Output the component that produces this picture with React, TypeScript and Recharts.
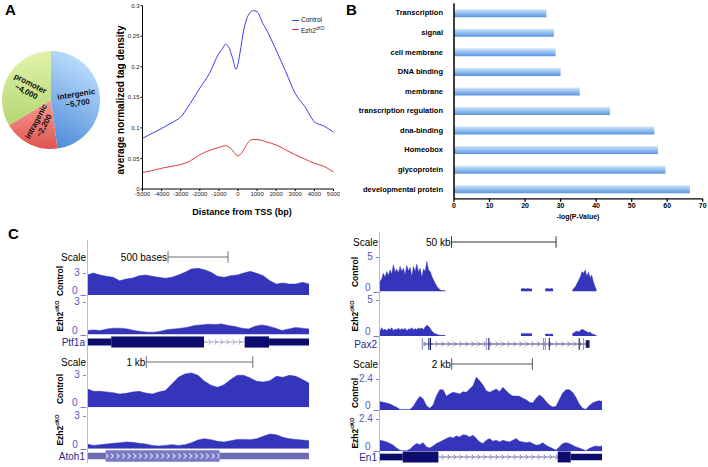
import React from 'react';
import {
  PieChart,
  Pie,
  Cell,
  LineChart,
  Line,
  BarChart,
  Bar,
  AreaChart,
  Area,
  ComposedChart,
  XAxis,
  YAxis,
  Legend,
  ReferenceArea,
  ReferenceLine,
} from 'recharts';

const FONT = '"Liberation Sans", Arial, Helvetica, sans-serif';
const TRACK_FILL = '#3535bb';
const TICK_BLUE = '#5656c2';
const RED_RULE = '#f2a4a4';

// Panel A - peak locations (pie)
const regionNames = ['intergenic', 'intragenic', 'promoter'];
const regionCounts = [5700, 2200, 4000];
const regionLabels = ['~5,700', '~2,200', '~4,000'];

// Panel A - tag density around TSS
const tssBp = [-5000, -4500, -4000, -3500, -3000, -2500, -2000, -1500, -1000, -800, -650, -500, -300, -100, 0, 100, 300, 500, 800, 1000, 1300, 1500, 2000, 2500, 3000, 3500, 4000, 4500, 5000];
const tssControl = [0.083, 0.091, 0.099, 0.108, 0.118, 0.14, 0.165, 0.189, 0.222, 0.23, 0.237, 0.233, 0.216, 0.196, 0.205, 0.222, 0.26, 0.282, 0.292, 0.29, 0.271, 0.26, 0.227, 0.192, 0.156, 0.135, 0.11, 0.103, 0.093];
const tssKo = [0.027, 0.03, 0.034, 0.037, 0.04, 0.046, 0.056, 0.063, 0.068, 0.07, 0.071, 0.069, 0.064, 0.056, 0.054, 0.056, 0.064, 0.075, 0.081, 0.081, 0.079, 0.077, 0.072, 0.064, 0.056, 0.049, 0.042, 0.037, 0.028];
const tssTicksX = [-5000, -4000, -3000, -2000, -1000, 0, 1000, 2000, 3000, 4000, 5000];
const tssTicksY = [0, 0.05, 0.1, 0.15, 0.2, 0.25, 0.3];

// Panel B - GO terms
const goTerms = ['Transcription', 'signal', 'cell membrane', 'DNA binding', 'membrane', 'transcription regulation', 'dna-binding', 'Homeobox', 'glycoprotein', 'developmental protein'];
const goScores = [26.0, 28.1, 28.6, 30.0, 35.4, 43.9, 56.4, 57.4, 59.5, 66.4];
const goTicks = [0, 10, 20, 30, 40, 50, 60, 70];

// Panel C - Ptf1a locus (bp)
const ptf1aSpan = 1850;
const ptf1aCtl = [2.22, 2.44, 2.22, 2.07, 1.96, 1.59, 1.78, 1.89, 2.15, 2.22, 2.07, 1.96, 1.85, 1.96, 2.22, 2.52, 2.89, 2.96, 2.81, 2.52, 2.07, 1.96, 2.15, 2.22, 2.44, 2.63, 2.41, 2.15, 1.59, 1.22, 1.33, 1.22, 1.22, 1.41, 1.22];
const ptf1aKo = [0.32, 0.37, 0.32, 0.45, 0.51, 0.51, 0.45, 0.32, 0.24, 0.19, 0.19, 0.27, 0.4, 0.45, 0.51, 0.59, 0.72, 0.77, 0.83, 0.8, 0.85, 0.72, 0.64, 0.51, 0.45, 0.67, 0.77, 0.67, 0.51, 0.32, 0.45, 0.56, 0.51, 0.45];
const ptf1aParts = [
  { s: 0, e: 202, k: 'utr' },
  { s: 202, e: 975, k: 'cds' },
  { s: 975, e: 1314, k: 'intron' },
  { s: 1314, e: 1517, k: 'cds' },
  { s: 1517, e: 1850, k: 'utr' },
];

// Panel C - Atoh1 locus (bp)
const atoh1Span = 2085;
const atoh1Ctl = [1.54, 1.32, 1.32, 1.27, 1.21, 1.1, 1.16, 1.27, 1.32, 1.18, 1.1, 1.27, 1.38, 1.93, 2.48, 2.76, 2.84, 2.64, 2.15, 1.82, 1.65, 1.87, 2.29, 2.64, 2.64, 2.42, 2.15, 2.09, 2.2, 2.56, 2.48, 2.64, 2.56, 2.29, 2.01];
const atoh1Ko = [0.38, 0.27, 0.33, 0.38, 0.44, 0.49, 0.55, 0.52, 0.44, 0.38, 0.27, 0.22, 0.27, 0.33, 0.27, 0.33, 0.49, 0.71, 0.82, 0.74, 0.6, 0.55, 0.65, 0.76, 0.76, 0.74, 0.82, 1.01, 1.2, 1.14, 0.93, 0.82, 0.76, 0.71, 0.65];
const atoh1Parts = [
  { s: 0, e: 2085, k: 'utr' },
  { s: 176, e: 1245, k: 'cdsArrow' },
];

// Panel C - Pax2 locus (kb), null = no data
const pax2Span = 106.4;
const pax2Kb = [
  0, 0.8, 1.6, 2.4, 3.2, 4.0, 4.8, 5.6, 6.4, 7.2, 8.0, 8.8, 9.6, 10.4, 11.2, 12.0, 12.8, 13.6, 14.4, 15.2,
  16.0, 16.8, 17.6, 18.4, 19.2, 20.0, 20.8, 21.6, 22.4, 23.2, 24.0, 24.8, 25.6, 26.4, 27.2, 28.0, 28.8, 29.6, 30.4, 31.2,
  45,
  67.4, 68.5, 69.6, 70.7, 71.8, 72.7,
  75,
  79.0, 80.0, 81.0, 82.0, 82.8,
  86,
  92.0, 92.8, 93.5, 94.3, 95.1, 95.9, 96.6, 97.4, 98.2, 98.9, 99.7, 100.5, 101.2, 102.0, 102.8, 103.5,
];
const pax2Ctl = [
  1.3, 1.64, 2.37, 1.81, 2.59, 2.07, 2.8, 2.25, 3.46, 2.51, 2.94, 2.37, 3.24, 2.59, 3.02, 2.16, 3.37, 2.68, 3.11, 1.94,
  3.24, 2.59, 3.54, 2.51, 3.02, 1.81, 2.94, 2.59, 3.89, 2.8, 2.59, 1.94, 1.51, 1.08, 0.65, 0.43, 0.22, 0.13, 0.13, 0.13,
  null,
  0.35, 0.39, 0.35, 0.39, 0.35, 0.35,
  null,
  0.35, 0.39, 0.35, 0.39, 0.35,
  null,
  0.22, 0.43, 0.65, 1.08, 1.51, 1.94, 2.59, 2.37, 2.8, 1.94, 2.51, 1.73, 2.16, 1.3, 0.65, 0.22,
];
const pax2Ko = [
  0.53, 1.01, 0.69, 0.85, 0.61, 0.9, 0.77, 1.01, 0.65, 0.85, 0.73, 0.98, 0.69, 0.9, 0.77, 0.93, 0.65, 0.85, 0.81, 1.01,
  0.73, 0.9, 0.77, 0.98, 0.85, 1.01, 0.77, 1.09, 1.3, 1.18, 0.93, 0.61, 0.41, 0.28, 0.2, 0.12, 0.08, 0.08, 0.08, 0.08,
  null,
  0.28, 0.32, 0.28, 0.32, 0.28, 0.28,
  null,
  0.2, 0.24, 0.2, 0.24, 0.2,
  null,
  0.28, 0.41, 0.53, 0.61, 0.49, 0.69, 0.81, 0.73, 0.61, 0.53, 0.41, 0.49, 0.28, 0.2, 0.12, 0.08,
];
const pax2Parts = [
  { s: 20.2, e: 100.0, k: 'intron' },
  { s: 20.0, e: 20.5, k: 'exonLight' },
  { s: 23.1, e: 23.6, k: 'exon' },
  { s: 23.9, e: 24.4, k: 'exon' },
  { s: 50.6, e: 51.1, k: 'exonLight' },
  { s: 51.8, e: 52.3, k: 'exon' },
  { s: 77.9, e: 78.4, k: 'exonLight' },
  { s: 78.8, e: 79.3, k: 'exonLight' },
  { s: 80.7, e: 81.2, k: 'exon' },
  { s: 95.0, e: 95.5, k: 'exon' },
  { s: 97.1, e: 97.6, k: 'exonLight' },
  { s: 98.4, e: 100.2, k: 'cds' },
];

// Panel C - En1 locus (bp)
const en1Span = 5517;
const en1Ctl = [
  0.56, 0.51, 0.47, 0.4, 0.29, 0.18, 0.04, 0.04, 0.04, 0.04,
  0.24, 0.6, 0.91, 0.73, 0.29, 0.11, 0.33, 0.95, 1.35, 1.35,
  0.91, 1.07, 1.18, 1.13, 1.07, 1.22, 1.18, 1.4, 1.62, 2.18,
  1.95, 1.67, 1.29, 1.18, 1.29, 1.4, 1.22, 1.51, 1.29, 1.07,
  0.93, 0.93, 0.91, 0.78, 0.69, 0.51, 0.47, 0.78, 1.0, 0.84,
  0.56, 0.33, 0.2, 0.24, 0.69, 1.13, 1.35, 1.35, 1.18, 0.84,
  0.4, 0.11, 0.04, 0.29, 0.47, 0.56, 0.62, 0.56,
];
const en1Ko = [
  0.73, 0.68, 0.62, 0.51, 0.4, 0.22, 0.07, 0.04, 0.04, 0.13,
  0.35, 0.51, 0.44, 0.57, 0.29, 0.22, 0.35, 0.51, 0.62, 0.73,
  0.84, 0.95, 0.88, 1.01, 0.95, 1.1, 1.06, 0.95, 1.06, 0.84,
  0.62, 0.51, 0.73, 0.84, 0.66, 0.73, 0.62, 0.73, 0.66, 0.62,
  0.73, 0.84, 0.66, 0.62, 0.57, 0.62, 0.51, 0.4, 0.44, 0.57,
  0.4, 0.29, 0.18, 0.07, 0.29, 0.51, 0.57, 0.51, 0.4, 0.29,
  0.22, 0.13, 0.04, 0.18, 0.29, 0.35, 0.31, 0.35,
];
const en1Parts = [
  { s: 0, e: 563, k: 'utr' },
  { s: 563, e: 1448, k: 'cds' },
  { s: 1448, e: 4406, k: 'intron' },
  { s: 4406, e: 4728, k: 'cds' },
  { s: 4728, e: 5517, k: 'utr' },
];

// gene drawing styles
const ptf1aLook = { dark: '#0c0c6c', light: '#0c0c6c', line: '#a6a6d0', chevron: '#9c9ccb', cds: 0.8, utr: 0.5, exon: 0.8 };
const atoh1Look = { dark: '#7878c4', utrColor: '#6c6cb3', light: '#7878c4', line: '#7878c4', chevron: '#ffffff', cds: 0.83, utr: 0.48, exon: 0.83 };
const pax2Look = { dark: '#17176e', light: '#8e8ebe', line: '#3a3a80', chevron: '#7a7ab0', cds: 0.55, utr: 0.4, exon: 0.85 };
const en1Look = { dark: '#0c0c6c', light: '#0c0c6c', line: '#6d6db2', chevron: '#7d7dc0', cds: 0.78, utr: 0.48, exon: 0.78 };

const pieRows = regionNames.map((name, i) => ({ name, count: regionCounts[i] }));
const pieFills = ['url(#pieBlue)', 'url(#pieRed)', 'url(#pieGreen)'];
const pieLabelTurn = [-9, -62, 27];

const tssRows = tssBp.map((bp, i) => ({ bp, control: tssControl[i], ko: tssKo[i] }));
const goRows = goTerms.map((term, i) => ({ term, score: goScores[i] }));

function renderPieLabel(p: any) {
  const RAD = Math.PI / 180;
  const r = p.outerRadius * 0.53;
  const x = p.cx + r * Math.cos(-p.midAngle * RAD);
  const y = p.cy + r * Math.sin(-p.midAngle * RAD);
  return (
    <text
      x={x}
      y={y}
      transform={`rotate(${pieLabelTurn[p.index]} ${x} ${y})`}
      textAnchor="middle"
      fontFamily={FONT}
      fontSize={8}
      fontWeight="bold"
      fill="#111"
    >
      <tspan x={x} dy={-1.5}>{regionNames[p.index]}</tspan>
      <tspan x={x} dy={9}>{regionLabels[p.index]}</tspan>
    </text>
  );
}

function PiePanel() {
  return (
    <div style={{ position: 'absolute', left: 0, top: 50 }}>
      <PieChart width={102} height={102} margin={{ top: 0, right: 0, bottom: 0, left: 0 }}>
        <defs>
          <linearGradient id="pieBlue" x1="0.3" y1="0" x2="0" y2="1">
            <stop offset="0" stopColor="#b9dcfb" />
            <stop offset="1" stopColor="#4a88d8" />
          </linearGradient>
          <linearGradient id="pieRed" x1="0" y1="0" x2="0" y2="1">
            <stop offset="0" stopColor="#f59d94" />
            <stop offset="1" stopColor="#e0544f" />
          </linearGradient>
          <linearGradient id="pieGreen" x1="0" y1="0" x2="0" y2="1">
            <stop offset="0" stopColor="#e2f3ab" />
            <stop offset="1" stopColor="#b3d672" />
          </linearGradient>
        </defs>
        <Pie
          data={pieRows}
          dataKey="count"
          cx={51}
          cy={50}
          outerRadius={49}
          startAngle={90}
          endAngle={-270}
          stroke="none"
          label={renderPieLabel}
          labelLine={false}
          isAnimationActive={false}
        >
          {pieRows.map((r, i) => (
            <Cell key={r.name} fill={pieFills[i]} />
          ))}
        </Pie>
      </PieChart>
    </div>
  );
}

function TssLegend() {
  const items = [
    { color: '#3c3cf0', label: <span>Control</span> },
    { color: '#e23a3a', label: <span>Ezh2<sup style={{ fontSize: 4.5 }}>cKO</sup></span> },
  ];
  return (
    <div style={{ fontFamily: FONT, fontSize: 6.5, color: '#111', lineHeight: '8.5px' }}>
      {items.map((it, i) => (
        <div key={i} style={{ display: 'flex', alignItems: 'center', whiteSpace: 'nowrap' }}>
          <span style={{ display: 'inline-block', width: 7, borderTop: `1px solid ${it.color}`, marginRight: 2 }} />
          {it.label}
        </div>
      ))}
    </div>
  );
}

function TssPanel() {
  return (
    <div style={{ position: 'absolute', left: 100, top: 0 }}>
      <LineChart width={240} height={203} data={tssRows} margin={{ top: 5.7, right: 6.5, bottom: 2, left: 0 }}>
        <XAxis
          dataKey="bp"
          type="number"
          domain={[-5000, 5000]}
          ticks={tssTicksX}
          interval={0}
          height={12}
          tickSize={2}
          tickMargin={1}
          stroke="#000"
          tick={{ fontSize: 6, fill: '#222', fontFamily: FONT }}
        />
        <YAxis
          type="number"
          domain={[0, 0.3]}
          ticks={tssTicksY}
          interval={0}
          width={42.5}
          tickSize={2}
          tickMargin={1}
          stroke="#000"
          tick={{ fontSize: 6, fill: '#222', fontFamily: FONT }}
        />
        <Line type="monotone" dataKey="control" stroke="#3c3cf0" strokeWidth={1} dot={false} isAnimationActive={false} />
        <Line type="monotone" dataKey="ko" stroke="#e23a3a" strokeWidth={1} dot={false} isAnimationActive={false} />
        <Legend
          layout="horizontal"
          verticalAlign="middle"
          align="center"
          content={() => <TssLegend />}
          wrapperStyle={{ left: 192, top: 16, width: 45, height: 18 }}
        />
      </LineChart>
    </div>
  );
}

function GoTick(t: any) {
  return (
    <text x={t.x} y={t.y} textAnchor="end" dominantBaseline="central" fontSize={7.5} fontWeight="bold" fontFamily={FONT} fill="#000">
      {t.payload.value}
    </text>
  );
}

function GoPanel() {
  return (
    <div style={{ position: 'absolute', left: 345, top: 0 }}>
      <BarChart layout="vertical" width={363} height={212} data={goRows} margin={{ top: 3.2, right: 5.3, bottom: 1.2, left: 0 }}>
        <defs>
          <linearGradient id="goBar" x1="0" y1="0" x2="0" y2="1">
            <stop offset="0" stopColor="#d3e7fc" />
            <stop offset="0.4" stopColor="#9fc6f2" />
            <stop offset="1" stopColor="#5b94dc" />
          </linearGradient>
        </defs>
        <XAxis
          type="number"
          domain={[0, 70]}
          ticks={goTicks}
          interval={0}
          height={12}
          tickSize={3}
          tickMargin={1}
          stroke="#000"
          strokeWidth={1.3}
          tick={{ fontSize: 7, fontWeight: 'bold', fill: '#000', fontFamily: FONT }}
        />
        <YAxis
          type="category"
          dataKey="term"
          width={109}
          interval={0}
          tickLine={false}
          tickMargin={5}
          stroke="#000"
          strokeWidth={1.5}
          tick={(t: any) => <GoTick {...t} />}
        />
        <Bar dataKey="score" fill="url(#goBar)" barSize={8} isAnimationActive={false} />
      </BarChart>
    </div>
  );
}

function TrackTick(p: any) {
  const isTop = p.payload.value !== 0;
  return (
    <text
      x={p.x - 1}
      y={isTop ? p.y + 7.5 : p.y - 1}
      textAnchor="end"
      fontSize={10}
      fontFamily={FONT}
      fill={TICK_BLUE}
    >
      {isTop ? `${p.payload.value} -` : '0 _'}
    </text>
  );
}

function Track({ xs, values, span, left, width, top, bottom, max }: any) {
  const axisW = 34;
  const pad = 5;
  const rows = values.map((v: number | null, i: number) => ({
    x: xs ? xs[i] : (i * span) / (values.length - 1),
    v,
  }));
  return (
    <div style={{ position: 'absolute', left: left - axisW, top: top - pad }}>
      <AreaChart width={width + axisW} height={bottom - top + 2 * pad} data={rows} margin={{ top: pad, right: 0, bottom: pad, left: 0 }}>
        <XAxis type="number" dataKey="x" domain={[0, span]} hide allowDataOverflow />
        <YAxis
          type="number"
          domain={[0, max]}
          ticks={[0, max]}
          interval={0}
          width={axisW}
          axisLine={false}
          tickLine={false}
          tickSize={0}
          tickMargin={0}
          allowDataOverflow
          tick={(t: any) => <TrackTick {...t} />}
        />
        <Area
          type="linear"
          dataKey="v"
          baseValue={0}
          stroke={TRACK_FILL}
          strokeWidth={0.5}
          fill={TRACK_FILL}
          fillOpacity={1}
          dot={false}
          activeDot={false}
          connectNulls={false}
          isAnimationActive={false}
        />
      </AreaChart>
    </div>
  );
}

function ScaleRow({ span, from, to, label, left, width, y, color }: any) {
  const h = 16;
  return (
    <div style={{ position: 'absolute', left, top: y - h / 2 }}>
      <ComposedChart width={width} height={h} data={[{ x: 0, y: 0 }, { x: span, y: 0 }]} margin={{ top: 0, right: 0, bottom: 0, left: 0 }}>
        <XAxis type="number" dataKey="x" domain={[0, span]} hide allowDataOverflow />
        <YAxis type="number" domain={[-1, 1]} hide allowDataOverflow />
        <Line dataKey="y" stroke="none" dot={false} activeDot={false} isAnimationActive={false} />
        <ReferenceLine segment={[{ x: from, y: 0 }, { x: to, y: 0 }]} stroke={color} strokeWidth={1} />
        <ReferenceLine
          segment={[{ x: from, y: -0.72 }, { x: from, y: 0.72 }]}
          stroke={color}
          strokeWidth={1}
          label={{ value: label, position: 'left', offset: 1, fill: '#000', fontSize: 10, fontFamily: FONT }}
        />
        <ReferenceLine segment={[{ x: to, y: -0.72 }, { x: to, y: 0.72 }]} stroke={color} strokeWidth={1} />
      </ComposedChart>
    </div>
  );
}

function GeneRow({ id, span, parts, look, left, width, y }: any) {
  const h = 14;
  const half: any = { cds: look.cds, utr: look.utr, exon: look.exon, exonLight: look.exon, intron: 0.5, cdsArrow: look.cds };
  const fills: any = {
    cds: look.dark,
    utr: look.utrColor || look.dark,
    exon: look.dark,
    exonLight: look.light,
    intron: `url(#intron-${id})`,
    cdsArrow: `url(#arrow-${id})`,
  };
  return (
    <div style={{ position: 'absolute', left, top: y - h / 2 }}>
      <ComposedChart width={width} height={h} data={[{ x: 0, y: 0 }, { x: span, y: 0 }]} margin={{ top: 0, right: 0, bottom: 0, left: 0 }}>
        <defs>
          <pattern id={`intron-${id}`} patternUnits="userSpaceOnUse" width={6} height={h}>
            <line x1={0} x2={6} y1={h / 2} y2={h / 2} stroke={look.line} strokeWidth={1} />
            <path d={`M1.5 ${h / 2 - 2.5} L4 ${h / 2} L1.5 ${h / 2 + 2.5}`} fill="none" stroke={look.chevron} strokeWidth={0.9} />
          </pattern>
          <pattern id={`arrow-${id}`} patternUnits="userSpaceOnUse" width={5.6} height={h}>
            <rect x={0} y={0} width={5.6} height={h} fill={look.dark} />
            <path d={`M1.5 ${h / 2 - 2.5} L4 ${h / 2} L1.5 ${h / 2 + 2.5}`} fill="none" stroke={look.chevron} strokeWidth={1} />
          </pattern>
        </defs>
        <XAxis type="number" dataKey="x" domain={[0, span]} hide allowDataOverflow />
        <YAxis type="number" domain={[-1, 1]} hide allowDataOverflow />
        <Line dataKey="y" stroke="none" dot={false} activeDot={false} isAnimationActive={false} />
        {parts.map((p: any, i: number) => (
          <ReferenceArea
            key={i}
            x1={p.s}
            x2={p.e}
            y1={-half[p.k]}
            y2={half[p.k]}
            fill={fills[p.k]}
            fillOpacity={1}
            stroke="none"
            ifOverflow="visible"
          />
        ))}
      </ComposedChart>
    </div>
  );
}

function SideLabel({ x, y, ko }: any) {
  return (
    <text
      transform={`translate(${x},${y}) rotate(-90)`}
      textAnchor="middle"
      dominantBaseline="central"
      fontSize={8.5}
      fontWeight="bold"
      fill="#000"
    >
      {ko ? (
        <>
          Ezh2<tspan fontSize={5.5} dy={-3}>cKO</tspan>
        </>
      ) : (
        'Control'
      )}
    </text>
  );
}

function Overlay() {
  const geneBlue = '#2a2a8c';
  return (
    <svg width={708} height={467} style={{ position: 'absolute', left: 0, top: 0, pointerEvents: 'none' }} fontFamily={FONT}>
      <text x={5} y={15} fontSize={15} fontWeight="bold">A</text>
      <text x={346} y={15} fontSize={15} fontWeight="bold">B</text>
      <text x={8} y={239} fontSize={15} fontWeight="bold">C</text>

      <text transform="translate(120,100) rotate(-90)" textAnchor="middle" dominantBaseline="central" fontSize={10} fontWeight="bold">
        average normalized tag density
      </text>
      <text x={242} y={212} textAnchor="middle" dominantBaseline="central" fontSize={9} fontWeight="bold">
        Distance from TSS (bp)
      </text>
      <text x={578} y={216} textAnchor="middle" dominantBaseline="central" fontSize={7} fontWeight="bold">
        -log(P-Value)
      </text>

      <line x1={87.5} x2={87.5} y1={240} y2={463} stroke={RED_RULE} strokeWidth={1} />
      <line x1={379.5} x2={379.5} y1={232} y2={463} stroke={RED_RULE} strokeWidth={1} />

      <g fontSize={10} textAnchor="end" dominantBaseline="central">
        <text x={86} y={257}>Scale</text>
        <text x={86} y={362}>Scale</text>
        <text x={378} y={242}>Scale</text>
        <text x={378} y={364}>Scale</text>
        <text x={85} y={342} fill={geneBlue}>Ptf1a</text>
        <text x={85} y={456} fill={geneBlue}>Atoh1</text>
        <text x={377} y={344} fill={geneBlue}>Pax2</text>
        <text x={377} y={457} fill={geneBlue}>En1</text>
      </g>

      <SideLabel x={60} y={281} />
      <SideLabel x={60} y={316} ko />
      <SideLabel x={60} y={389} />
      <SideLabel x={60} y={430} ko />
      <SideLabel x={355} y={272} />
      <SideLabel x={355} y={316} ko />
      <SideLabel x={355} y={393} />
      <SideLabel x={355} y={433} ko />
    </svg>
  );
}

export default function App() {
  return (
    <div style={{ position: 'absolute', left: 0, top: 0, width: 708, height: 467, background: '#fff', overflow: 'hidden', fontFamily: FONT }}>
      <PiePanel />
      <TssPanel />
      <GoPanel />

      {/* Ptf1a */}
      <ScaleRow span={ptf1aSpan} from={675} to={1175} label="500 bases" left={87} width={222} y={257} color="#6e6e6e" />
      <Track values={ptf1aCtl} span={ptf1aSpan} left={87} width={222} top={268} bottom={295} max={3} />
      <Track values={ptf1aKo} span={ptf1aSpan} left={87} width={222} top={296.5} bottom={334} max={3} />
      <GeneRow id="ptf1a" span={ptf1aSpan} parts={ptf1aParts} look={ptf1aLook} left={87} width={222} y={341.7} />

      {/* Atoh1 */}
      <ScaleRow span={atoh1Span} from={557} to={1557} label="1 kb" left={87} width={222} y={362} color="#6e6e6e" />
      <Track values={atoh1Ctl} span={atoh1Span} left={87} width={222} top={371} bottom={407.3} max={3} />
      <Track values={atoh1Ko} span={atoh1Span} left={87} width={222} top={412} bottom={448.7} max={3} />
      <GeneRow id="atoh1" span={atoh1Span} parts={atoh1Parts} look={atoh1Look} left={87} width={222} y={455.5} />

      {/* Pax2 */}
      <ScaleRow span={pax2Span} from={34.2} to={84.2} label="50 kb" left={379.5} width={222.5} y={241.7} color="#333" />
      <Track xs={pax2Kb} values={pax2Ctl} span={pax2Span} left={379.5} width={222.5} top={252.7} bottom={291.3} max={5} />
      <Track xs={pax2Kb} values={pax2Ko} span={pax2Span} left={379.5} width={222.5} top={295.3} bottom={336.3} max={5} />
      <GeneRow id="pax2" span={pax2Span} parts={pax2Parts} look={pax2Look} left={379.5} width={222.5} y={344} />

      {/* En1 */}
      <ScaleRow span={en1Span} from={1778} to={3778} label="2 kb" left={379.5} width={222.5} y={364} color="#555" />
      <Track values={en1Ctl} span={en1Span} left={379.5} width={222.5} top={373.7} bottom={409.7} max={2.4} />
      <Track values={en1Ko} span={en1Span} left={379.5} width={222.5} top={415} bottom={451.3} max={2.4} />
      <GeneRow id="en1" span={en1Span} parts={en1Parts} look={en1Look} left={379.5} width={222.5} y={457} />

      <Overlay />
    </div>
  );
}
